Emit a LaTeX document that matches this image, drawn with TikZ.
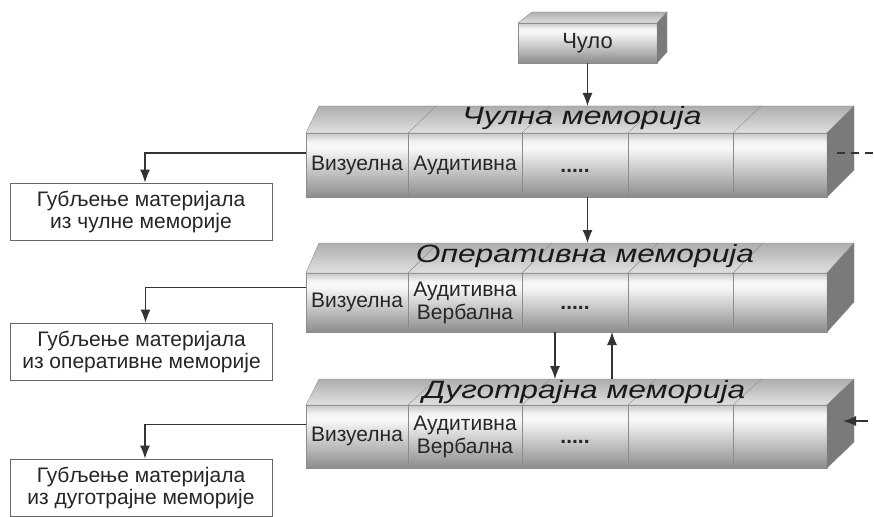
\documentclass[tikz,border=0pt]{standalone}
\usepackage{fontspec}
\setmainfont{Liberation Sans}
\usetikzlibrary{positioning, arrows.meta}
\pgfdeclareverticalshading{cellshade}{100bp}{color(0bp)=(black!45); color(25bp)=(black!45); color(63bp)=(black!3); color(68bp)=(black!4); color(75bp)=(black!22); color(100bp)=(black!22)}
\tikzset{
    cell/.style={rectangle, draw=black!45, shade, shading=cellshade, inner sep=0pt, outer sep=0pt, text=black!85, font=\fontsize{21}{23}\selectfont, align=center},
    sense/.style={rectangle, draw=black!45, shade, shading=cellshade, inner sep=0pt, outer sep=0pt, minimum width=139pt, minimum height=40pt, text=black!85, font=\fontsize{22}{24}\selectfont},
    topface/.style={draw=black!45, top color=black!32, bottom color=black!12},
    sideface/.style={draw=black!45, fill=black!52},
    divider/.style={draw=black!45},
    title/.style={text=black!90, font=\fontsize{25}{27}\selectfont\itshape},
    loss/.style={rectangle, draw=black!60, line width=0.8pt, fill=white, minimum width=262pt, minimum height=57pt, text=black!85, font=\fontsize{21}{22}\selectfont, align=center},
    link/.style={draw=black!80, line width=1.1pt},
    arr/.style={link, -{Latex[length=13pt, width=10pt]}},
}
\begin{document}
\begin{tikzpicture}[x=1pt, y=1pt]
    \useasboundingbox (0,0) rectangle (874,-516);

    % Чуло
    \node [sense] (sense) at (587.5,-43) {Чуло};
    \path [topface] (sense.north west) -- ++(14,11) -- ([shift={(10,11)}]sense.north east) -- (sense.north east) -- cycle;
    \path [sideface] (sense.north east) -- ++(10,11) -- ++(0,-40) -- (sense.south east) -- cycle;

    % Чулна меморија
    \node [cell, minimum width=102pt, minimum height=64pt, anchor=north west] (s1) at (306,-133) {Визуелна};
    \node [cell, minimum width=114pt, minimum height=64pt] (s2) [right=0pt of s1] {Аудитивна};
    \node [cell, minimum width=106pt, minimum height=64pt] (s3) [right=0pt of s2] {\vphantom{В}\textbf{.....}};
    \node [cell, minimum width=105pt, minimum height=64pt] (s4) [right=0pt of s3] {};
    \node [cell, minimum width=94pt, minimum height=64pt] (s5) [right=0pt of s4] {};
    \path [topface] (s1.north west) -- ++(13,27) coordinate (sback) -- ([shift={(27,27)}]s5.north east) -- (s5.north east) -- cycle;
    \path [sideface] (s5.north east) -- ++(27,27) -- ++(0,-64) -- (s5.south east) -- cycle;
    \draw [divider] (s1.north east) -- ++(28,27) (s2.north east) -- ++(28,27)
        (s3.north east) -- ++(28,27) (s4.north east) -- ++(28,27);
    \node [title] (stitle) at (582,-118) {\scalebox{1.28}[1]{Чулна меморија}};

    % Оперативна меморија
    \node [cell, minimum width=102pt, minimum height=59pt, anchor=north west] (o1) at (306,-273) {Визуелна};
    \node [cell, minimum width=114pt, minimum height=59pt] (o2) [right=0pt of o1] {Аудитивна\\Вербална};
    \node [cell, minimum width=106pt, minimum height=59pt] (o3) [right=0pt of o2] {\vphantom{В}\textbf{.....}};
    \node [cell, minimum width=105pt, minimum height=59pt] (o4) [right=0pt of o3] {};
    \node [cell, minimum width=94pt, minimum height=59pt] (o5) [right=0pt of o4] {};
    \path [topface] (o1.north west) -- ++(13,30) coordinate (oback) -- ([shift={(27,30)}]o5.north east) -- (o5.north east) -- cycle;
    \path [sideface] (o5.north east) -- ++(27,30) -- ++(0,-59) -- (o5.south east) -- cycle;
    \draw [divider] (o1.north east) -- ++(30,30) (o2.north east) -- ++(30,30)
        (o3.north east) -- ++(30,30) (o4.north east) -- ++(30,30);
    \node [title] (otitle) at (585,-256) {\scalebox{1.27}[1]{Оперативна меморија}};

    % Дуготрајна меморија
    \node [cell, minimum width=102pt, minimum height=63pt, anchor=north west] (l1) at (306,-405) {Визуелна};
    \node [cell, minimum width=114pt, minimum height=63pt] (l2) [right=0pt of l1] {Аудитивна\\Вербална};
    \node [cell, minimum width=106pt, minimum height=63pt] (l3) [right=0pt of l2] {\vphantom{В}\textbf{.....}};
    \node [cell, minimum width=105pt, minimum height=63pt] (l4) [right=0pt of l3] {};
    \node [cell, minimum width=94pt, minimum height=63pt] (l5) [right=0pt of l4] {};
    \path [topface] (l1.north west) -- ++(13,26) coordinate (lback) -- ([shift={(27,26)}]l5.north east) -- (l5.north east) -- cycle;
    \path [sideface] (l5.north east) -- ++(27,26) -- ++(0,-63) -- (l5.south east) -- cycle;
    \draw [divider] (l1.north east) -- ++(28,26) (l2.north east) -- ++(28,26)
        (l3.north east) -- ++(28,26) (l4.north east) -- ++(28,26);
    \node [title] (ltitle) at (584,-392) {\scalebox{1.27}[1]{Дуготрајна меморија}};

    % gubljenje
    \node [loss] (loss1) at (141,-211.5) {Губљење материјала\\из чулне меморије};
    \node [loss] (loss2) at (141.5,-351.5) {Губљење материјала\\из оперативне меморије};
    \node [loss] (loss3) at (141,-487.5) {Губљење материјала\\из дуготрајне меморије};

    \coordinate (sout) at (874,-153);
    \coordinate (lin) at (868,-421);

    \draw [arr] (sense.south) -- (sense.south |- sback);
    \draw [arr] (s3.south -| sense.south) -- (sense.south |- oback);
    \draw [arr] ([xshift=-20pt]o3.south) -- ([xshift=-20pt]o3.south |- lback);
    \draw [arr] ([xshift=37pt]o3.south |- lback) -- ([xshift=37pt]o3.south);
    \draw [arr] ([yshift=12pt]s1.west) -| ([xshift=4pt]loss1.north);
    \draw [arr] ([yshift=15pt]o1.west) -| ([xshift=4pt]loss2.north);
    \draw [arr] ([yshift=12pt]l1.west) -| ([xshift=4pt]loss3.north);
    \draw [link, dash pattern=on 8pt off 6pt] ([xshift=10pt, yshift=12pt]s5.east) -- (sout);
    \draw [arr] (lin) -- ([xshift=16pt, yshift=15.5pt]l5.east);
\end{tikzpicture}
\end{document}
